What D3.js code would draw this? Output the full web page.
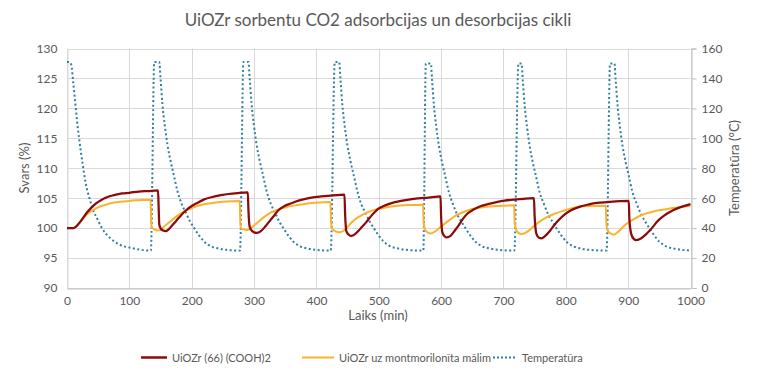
<!DOCTYPE html>
<html>
<head>
<meta charset="utf-8">
<script src="https://cdn.jsdelivr.net/npm/d3@7/dist/d3.min.js"></script>
<style>
  body { margin: 0; background: #fff; }
  svg text { font-family: Lato, "Open Sans", sans-serif; fill: #595959; }
</style>
</head>
<body>
<svg id="chart" width="757" height="378"></svg>
<script>
// series: [time (min), value]
var redPoints = [
  [0,100],[10,100],[15,100.3],[20,100.9],[25,101.6],[32,102.6],[38,103.3],[46,104.1],[55,104.7],[65,105.2],[75,105.5],[88,105.8],[100,105.9],[115,106.1],[130,106.2],[146,106.3],
  [147,103.5],[148,100.6],[150,100.0],[154,99.6],[158,99.5],[163,99.8],[169,100.5],[175,101.2],[180,101.8],[190,102.9],[200,103.7],[207,104.1],[220,104.8],[233,105.2],[247,105.5],[259,105.7],[274,105.85],[290,105.95],
  [291,103],[293,100.2],[297,99.5],[304,99.2],[311,99.5],[319,100.4],[326,101.3],[333,102.2],[339,103],[349,103.7],[359,104.1],[366,104.4],[379,104.8],[392,105.1],[408,105.3],[419,105.4],[433,105.5],[445,105.6],
  [446,102.5],[448,99.5],[452,98.9],[456,98.7],[462,99.0],[468,99.6],[473,100.2],[480,101.0],[486,101.8],[493,102.6],[499,103.2],[508,103.7],[518,104.1],[526,104.35],[538,104.6],[553,104.85],[573,105.05],[590,105.2],[599,105.3],
  [600,102],[602,99.3],[606,98.6],[609,98.45],[615,98.7],[622,99.6],[629,100.6],[635,101.55],[642,102.4],[652,103.1],[662,103.6],[675,104.0],[689,104.35],[702,104.6],[716,104.75],[732,104.9],[749,105.0],
  [750,102],[753,99],[757,98.4],[761,98.3],[767,98.7],[775,99.6],[783,100.7],[789,101.4],[796,102.1],[807,102.9],[823,103.6],[837,103.95],[850,104.2],[867,104.35],[887,104.5],[901,104.55],
  [902,101.5],[905,99],[909,98.2],[913,98.0],[921,98.3],[929,99.0],[938,100.0],[948,101.25],[954,101.8],[962,102.4],[972,103.0],[984,103.5],[1000,104.0]
];

var orangePoints = [
  [0,100],[10,100],[15,100.3],[20,100.9],[25,101.5],[32,102.3],[38,102.8],[46,103.25],[55,103.7],[65,104.0],[72,104.2],[85,104.4],[100,104.55],[115,104.65],[134,104.75],
  [135,101],[136,100.1],[140,99.8],[146,99.6],[150,99.7],[155,100.2],[162,100.8],[169,101.4],[180,102.3],[192,103.0],[206,103.6],[220,104.0],[233,104.2],[250,104.4],[264,104.5],[277,104.55],
  [278,101],[279,100],[283,99.8],[289,99.7],[295,100.0],[304,100.8],[312,101.5],[321,102.2],[329,102.7],[339,103.1],[351,103.5],[366,103.8],[379,104.0],[392,104.2],[408,104.3],[422.5,104.35],
  [423.5,101],[425.5,99.9],[430,99.5],[437,99.3],[444,99.6],[450,100.2],[456,100.9],[464,101.6],[472,102.1],[483,102.7],[499,103.2],[513,103.5],[526,103.7],[548,103.85],[571,103.9],
  [572,101],[574,99.8],[578,99.3],[583,99.1],[590,99.4],[598,100.1],[609,101.0],[618,101.7],[627,102.3],[635,102.65],[647,103.1],[662,103.4],[677,103.6],[689,103.7],[703,103.75],[717,103.8],
  [718,101],[720,99.8],[724,99.2],[729,99.0],[735,99.2],[742,99.7],[752,100.6],[761,101.3],[769,101.8],[782,102.4],[796,102.9],[809,103.3],[823,103.6],[842,103.7],[864,103.75],
  [865,101],[867,99.6],[872,99.1],[877,98.9],[883,99.3],[889,99.9],[896,100.6],[903,101.1],[909,101.5],[922,102.2],[936,102.65],[949,103.0],[963,103.2],[981,103.5],[1000,103.75]
];

var tempPoints = [
  [0,151],[4,151],[7,149],[10,137],[13,125],[16,112],[20,98],[25,83],[30,70],[36,60],[42,52],[50,45],[56,40],[63,36],[70,33],[80,30],[90,28],[100,27],[112,26],[123,25.3],[133,25],
  [134.5,25],[140,151],[148,151],[150,140],[153,123],[157,108],[161,96],[166,85],[171,76],[177,65],[184,56],[191,50],[198,44],[204,40],[212,35],[220,31],[230,28],[242,26.5],[256,25.5],[276.5,25],
  [277.5,25],[283,151],[291,151],[293,140],[296,123],[300,108],[304,96],[309,85],[314,76],[320,65],[327,56],[334,50],[341,44],[347,40],[355,35],[363,31],[373,28],[385,26.5],[399,25.5],[422,25],
  [423,25],[429.5,151],[436.5,151],[438.5,140],[441.5,123],[445.5,108],[449.5,96],[454.5,85],[459.5,76],[465.5,65],[472,56],[479,50],[486,44],[492,40],[500,35],[508,31],[518,28],[530,26.5],[544,25.5],[570.5,25],
  [571.5,25],[575.5,150],[583.5,150],[585.5,139],[588.5,122],[592.5,107],[596.5,95],[601.5,84],[606.5,75],[612.5,64],[619,56],[626,49],[633,44],[639,40],[647,35],[655,31],[665,28],[677,26.5],[691,25.5],[716.5,25],
  [717.5,25],[724,150],[729,150],[731,139],[734,122],[738,107],[742,95],[747,84],[752,75],[758,64],[765,56],[772,49],[779,44],[785,40],[793,35],[801,31],[811,28],[823,26.5],[837,25.5],[864.5,25],
  [865.5,25],[871,150],[878,150],[880,139],[883,122],[887,107],[891,95],[896,84],[901,75],[907,64],[914,56],[921,49],[928,44],[934,40],[942,35],[950,31],[960,28],[972,26.5],[986,25.5],[1000,25]
];

var xTicks = [0, 100, 200, 300, 400, 500, 600, 700, 800, 900, 1000];
var leftTicks = [90, 95, 100, 105, 110, 115, 120, 125, 130];
var rightTicks = [0, 20, 40, 60, 80, 100, 120, 140, 160];

var seriesNames = ["UiOZr (66) (COOH)2", "UiOZr uz montmorilonīta mālim", "Temperatūra"];
var seriesColors = ["#8b0a0a", "#fbb22c", "#2f7f9e"];

(function () {
  var svg = d3.select("#chart");
  var plotLeft = 67, plotRight = 690.5, plotTop = 48.5, plotBottom = 288;

  var x = d3.scaleLinear().domain([0, 1000]).range([plotLeft, plotRight]);
  var yL = d3.scaleLinear().domain([90, 130]).range([plotBottom, plotTop]);
  var yR = d3.scaleLinear().domain([0, 160]).range([plotBottom, plotTop]);

  // title
  svg.append("text")
    .attr("x", 378).attr("y", 26)
    .attr("text-anchor", "middle")
    .style("font-size", "17px")
    .text("UiOZr sorbentu CO2 adsorbcijas un desorbcijas cikli");

  // grid
  svg.append("g").selectAll("line").data(leftTicks).enter().append("line")
    .attr("x1", plotLeft).attr("x2", plotRight)
    .attr("y1", function (d) { return Math.round(yL(d)) + 0.5; })
    .attr("y2", function (d) { return Math.round(yL(d)) + 0.5; })
    .attr("stroke", "#d9d9d9").attr("stroke-width", 1);

  svg.append("g").selectAll("line").data(xTicks).enter().append("line")
    .attr("y1", plotTop).attr("y2", plotBottom)
    .attr("x1", function (d) { return Math.round(x(d)) + 0.5; })
    .attr("x2", function (d) { return Math.round(x(d)) + 0.5; })
    .attr("stroke", "#d9d9d9").attr("stroke-width", 1);

  // axes
  var gx = svg.append("g").attr("transform", "translate(0," + (Math.round(plotBottom) + 0.5) + ")")
    .call(d3.axisBottom(x).tickValues(xTicks).tickFormat(d3.format("d")).tickSize(0).tickPadding(8));
  var gl = svg.append("g").attr("transform", "translate(" + (Math.round(plotLeft) + 0.5) + ",0)")
    .call(d3.axisLeft(yL).tickValues(leftTicks).tickSize(0).tickPadding(10));
  var gr = svg.append("g").attr("transform", "translate(" + (Math.round(plotRight) + 0.5) + ",0)")
    .call(d3.axisRight(yR).tickValues(rightTicks).tickSize(5).tickPadding(5));

  [gx, gl, gr].forEach(function (g) {
    g.select(".domain").attr("stroke", "#bfbfbf");
    g.selectAll(".tick line").attr("stroke", "#bfbfbf");
    g.selectAll("text").style("font-size", "12px").style("font-family", "Lato, sans-serif").attr("fill", "#595959");
  });
  gl.select(".domain").attr("stroke", "#d9d9d9");

  // axis titles
  svg.append("text")
    .attr("x", 378).attr("y", 320)
    .attr("text-anchor", "middle")
    .style("font-size", "13px")
    .text("Laiks (min)");

  svg.append("text")
    .attr("transform", "translate(29,168) rotate(-90)")
    .attr("text-anchor", "middle")
    .style("font-size", "13px")
    .text("Svars (%)");

  svg.append("text")
    .attr("transform", "translate(739,168) rotate(-90)")
    .attr("text-anchor", "middle")
    .style("font-size", "13px")
    .text("Temperatūra (°C)");

  // lines
  var lineL = d3.line()
    .x(function (d) { return x(d[0]); })
    .y(function (d) { return yL(d[1]); })
    .curve(d3.curveMonotoneX);
  var lineR = d3.line()
    .x(function (d) { return x(d[0]); })
    .y(function (d) { return yR(d[1]); })
    .curve(d3.curveMonotoneX);

  svg.append("path").datum(tempPoints)
    .attr("d", lineR).attr("fill", "none")
    .attr("stroke", seriesColors[2]).attr("stroke-width", 2)
    .attr("stroke-dasharray", "2,2.5");

  svg.append("path").datum(orangePoints)
    .attr("d", lineL).attr("fill", "none")
    .attr("stroke", seriesColors[1]).attr("stroke-width", 2)
    .attr("stroke-linejoin", "round");

  svg.append("path").datum(redPoints)
    .attr("d", lineL).attr("fill", "none")
    .attr("stroke", seriesColors[0]).attr("stroke-width", 2.25)
    .attr("stroke-linejoin", "round");

  // legend
  var legendX = [141, 302, 493];
  var legendW = [26, 32, 24];
  var legend = svg.append("g");
  seriesNames.forEach(function (name, i) {
    var ly = 357.5;
    legend.append("line")
      .attr("x1", legendX[i]).attr("x2", legendX[i] + legendW[i])
      .attr("y1", ly).attr("y2", ly)
      .attr("stroke", seriesColors[i])
      .attr("stroke-width", i === 0 ? 2.5 : 2)
      .attr("stroke-dasharray", i === 2 ? "2,2" : null);
    legend.append("text")
      .attr("x", legendX[i] + legendW[i] + 5).attr("y", ly + 4)
      .style("font-size", "11px")
      .text(name);
  });
})();
</script>
</body>
</html>
